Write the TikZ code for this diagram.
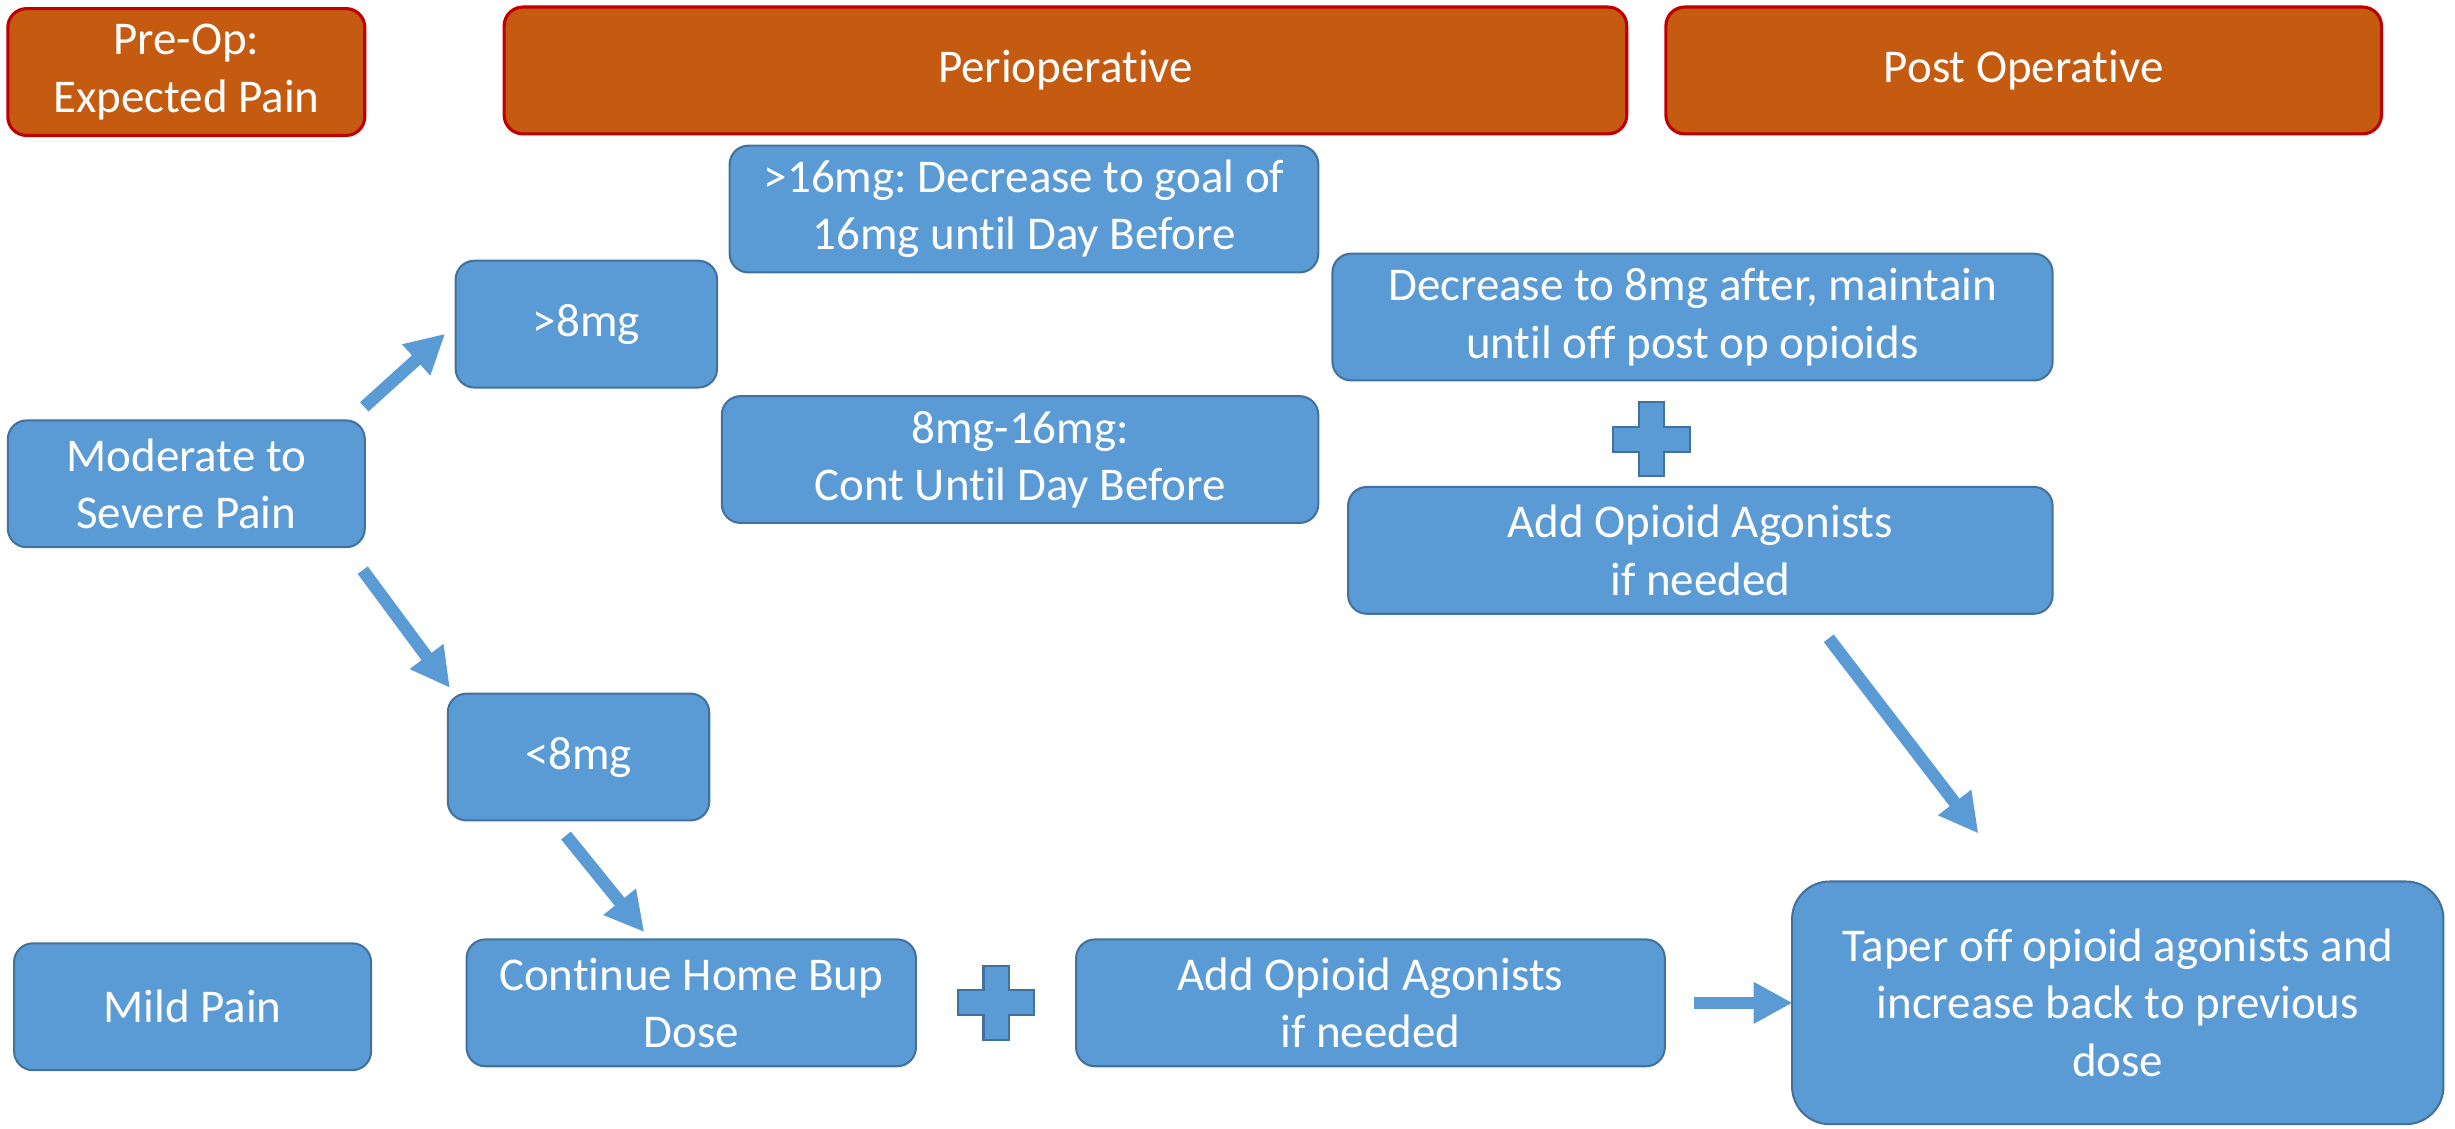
\documentclass[tikz,border=0pt]{standalone}
\usepackage{fontspec}
\setmainfont{Carlito}[Ligatures=NoCommon]
\frenchspacing
\usetikzlibrary{arrows.meta,positioning,calc}
\definecolor{boxblue}{HTML}{5B9BD5}
\definecolor{boxline}{HTML}{41719C}
\definecolor{phaseorange}{HTML}{C55A11}
\definecolor{phaseline}{HTML}{C00000}
\newcommand{\addmark}[1]{%
	\draw[draw=boxline, fill=boxblue, line width=1.3pt, shift={(#1)}] (-8,-23.5) -- (8,-23.5) -- (8,-8) -- (24.5,-8) -- (24.5,8) -- (8,8) -- (8,23.5) -- (-8,23.5) -- (-8,8) -- (-24.5,8) -- (-24.5,-8) -- (-8,-8) -- cycle;}
\tikzset{
	phase/.style={draw=phaseline, line width=2pt, fill=phaseorange, rounded corners=12pt, text=white, align=center, inner sep=0pt, minimum height=81pt, font=\fontsize{30}{36.5}\selectfont},
	dose/.style={draw=boxline, line width=1.3pt, fill=boxblue, rounded corners=12pt, text=white, align=center, inner sep=0pt, minimum height=81pt, font=\fontsize{30}{36.5}\selectfont},
	flow/.style={boxblue, line width=8pt, -{Triangle[length=25pt,width=25pt]}},
}
\begin{document}
\begin{tikzpicture}[x=1pt,y=-1pt]
		\useasboundingbox (0,0) rectangle (1568,721);
		%
		\node[phase, minimum width=228pt] (preop) at (119,46) {Pre-Op:\\Expected Pain};
		\node[phase, minimum width=717pt] (periop) at (680.5,45) {Perioperative};
		\node[phase, minimum width=457pt, right=23pt of periop] (postop) {Post Operative};
		%
		\node[dose, minimum width=376pt] (gt16) at (654,133.5) {>16mg: Decrease to goal of\\16mg until Day Before};
		\node[dose, minimum width=167pt] (gt8) at (374.5,207) {>8mg};
		\node[dose, minimum width=228pt] (mod) at (119,309) {Moderate to\\Severe Pain};
		\node[dose, minimum width=381pt] (mid) at (651.5,293.5) {8mg-16mg:\\Cont Until Day Before};
		\node[dose, minimum width=460pt] (decr) at (1081,202.5) {Decrease to 8mg after, maintain\\until off post op opioids};
		\node[dose, minimum width=450pt] (addr) at (1086,351.5) {Add Opioid Agonists\\if needed};
		\node[dose, minimum width=167pt] (lt8) at (369.5,483.5) {<8mg};
		\node[dose, minimum width=228pt] (mild) at (123,643) {Mild Pain};
		\node[dose, minimum width=287pt] (cont) at (441.5,640.5) {Continue Home Bup\\Dose};
		\node[dose, minimum width=376pt, right=101pt of cont] (addb) {Add Opioid Agonists\\if needed};
		\node[dose, minimum width=416pt, minimum height=155pt, rounded corners=24pt, right=80pt of addb] (taper) {Taper off opioid agonists and\\increase back to previous\\dose};
		%
		\coordinate (plusr) at (1055,280.5);
		\coordinate (plusb) at ($(cont.east)!0.5!(addb.west)$);
		\addmark{plusr}
		\addmark{plusb}
		%
		\draw[flow] ($(mod.north east)+(-1,-8)$) -- ($(gt8.south west)+(-6,-35)$);
		\draw[flow] ($(mod.south east)+(-2,14)$) -- ($(lt8.north west)+(2,-3)$);
		\draw[flow] ($(lt8.south)+(-8,9)$) -- ($(cont.north)+(-30,-4)$);
		\draw[flow] ($(addr.south)+(82,15)$) -- ($(taper.north)+(-89,-30)$);
		\draw[flow] ($(addb.east)+(18,0)$) -- ($(taper.west)+(1,0)$);
\end{tikzpicture}
\end{document}
